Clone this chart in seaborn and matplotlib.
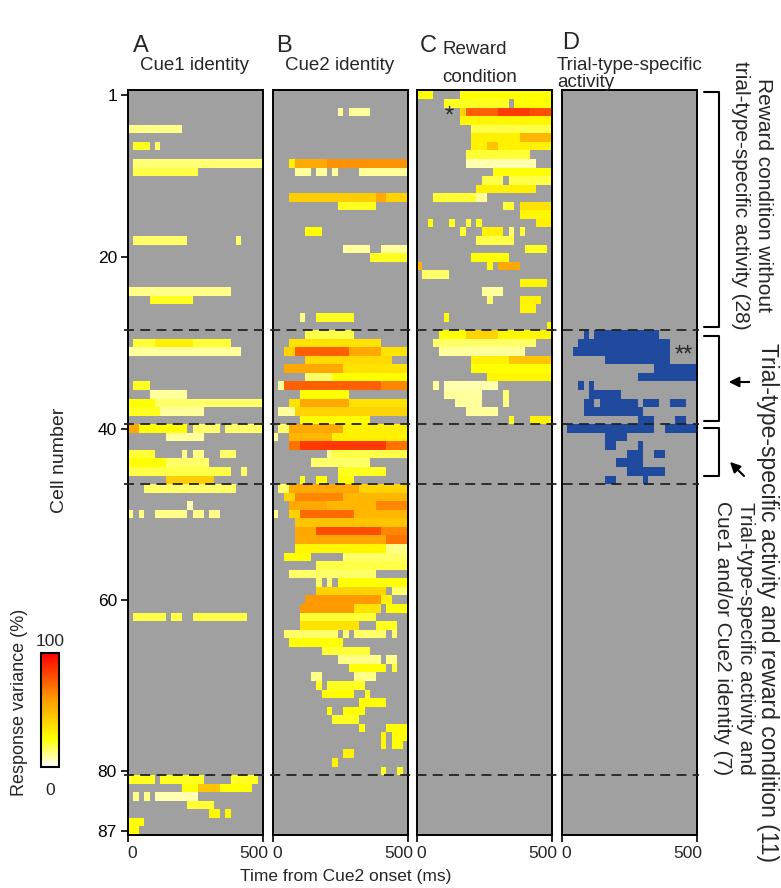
import numpy as np
import matplotlib
matplotlib.use('Agg')
import matplotlib.pyplot as plt
import seaborn as sns
from matplotlib.colors import LinearSegmentedColormap, ListedColormap
from matplotlib.lines import Line2D
from matplotlib.patches import FancyArrowPatch
from matplotlib.transforms import blended_transform_factory

sns.set_theme(style='white')
plt.rcParams['font.family'] = ['Liberation Sans', 'DejaVu Sans']

# ---------------- data ----------------
N_CELLS = 87
N_BINS = 25          # 20-ms bins, 0-500 ms
panel_letters = ['A', 'B', 'C', 'D']
x_tick_labels = ['0', '500']
y_tick_cells = [1, 20, 40, 60, 80, 87]
group_boundaries = [28.5, 39.5, 46.5, 80.5]

# (cell, first bin, last bin, response variance %)
cue1_segments = [
    (5, 0, 9, 12), (7, 1, 3, 22), (7, 5, 5, 15), (9, 1, 24, 14), (10, 1, 12, 18),
    (18, 1, 10, 15), (18, 20, 20, 15), (24, 0, 18, 12), (25, 4, 11, 22),
    (30, 1, 4, 20), (30, 5, 11, 30), (30, 12, 18, 20), (31, 0, 20, 10),
    (35, 1, 3, 22), (36, 4, 10, 10), (37, 0, 4, 25), (37, 5, 24, 15),
    (38, 0, 5, 22), (38, 6, 13, 10),
    (40, 0, 1, 55), (40, 2, 10, 25), (40, 12, 16, 15), (40, 18, 24, 15),
    (41, 7, 13, 10),
    (43, 0, 4, 20), (43, 10, 10, 12), (43, 12, 13, 12), (43, 17, 19, 15),
    (44, 0, 6, 25), (44, 7, 14, 15), (45, 0, 18, 18), (45, 21, 21, 15),
    (46, 7, 15, 42), (47, 3, 19, 15), (49, 11, 11, 8),
    (50, 0, 0, 12), (50, 2, 2, 12), (50, 5, 10, 12), (50, 12, 13, 12), (50, 15, 16, 12),
    (62, 1, 6, 18), (62, 8, 9, 18), (62, 12, 21, 18),
    (81, 0, 4, 22), (81, 6, 13, 22), (81, 19, 23, 22),
    (82, 10, 12, 25), (82, 13, 16, 45), (82, 17, 22, 25),
    (83, 1, 1, 12), (83, 3, 3, 12), (83, 5, 12, 8),
    (84, 11, 15, 20), (85, 15, 16, 28), (85, 18, 18, 28),
    (86, 0, 2, 25), (87, 0, 1, 25),
]

cue2_segments = [
    (3, 12, 12, 10), (3, 14, 17, 10),
    (9, 3, 3, 30), (9, 4, 9, 55), (9, 10, 24, 62),
    (10, 4, 6, 10), (10, 8, 9, 10), (10, 11, 11, 10), (10, 16, 24, 10),
    (13, 3, 18, 42), (13, 19, 20, 55), (13, 21, 24, 40),
    (14, 12, 18, 22), (17, 6, 8, 25),
    (19, 13, 14, 10), (19, 15, 16, 10), (19, 17, 17, 10), (19, 20, 24, 10),
    (20, 18, 24, 22), (27, 5, 5, 12), (27, 8, 14, 22),
    (29, 6, 14, 18), (30, 3, 19, 35),
    (31, 2, 3, 40), (31, 4, 13, 75), (31, 14, 19, 55), (31, 20, 24, 35),
    (32, 6, 21, 38), (33, 2, 12, 55), (33, 13, 24, 35),
    (34, 6, 10, 15), (34, 11, 24, 25),
    (35, 1, 1, 10), (35, 2, 19, 75), (35, 20, 24, 65),
    (36, 5, 13, 25), (37, 3, 4, 35), (37, 5, 13, 55), (37, 14, 24, 35),
    (38, 1, 3, 10), (38, 4, 24, 40), (39, 5, 17, 25),
    (40, 1, 2, 15), (40, 3, 12, 55), (40, 13, 24, 30),
    (41, 0, 0, 10), (41, 3, 10, 50), (41, 11, 24, 30),
    (42, 3, 4, 70), (42, 5, 20, 85), (42, 21, 24, 70),
    (43, 10, 10, 12), (43, 11, 24, 18), (44, 7, 17, 15), (45, 12, 20, 22),
    (46, 5, 5, 22), (46, 8, 9, 25), (46, 12, 14, 25),
    (47, 1, 2, 15), (47, 3, 15, 55), (47, 16, 24, 40),
    (48, 2, 3, 40), (48, 4, 12, 65), (48, 13, 24, 50),
    (49, 3, 9, 55), (49, 10, 18, 50), (49, 19, 24, 65),
    (50, 0, 0, 12), (50, 3, 4, 40), (50, 5, 14, 72), (50, 15, 24, 50),
    (51, 4, 24, 45),
    (52, 4, 7, 55), (52, 8, 19, 80), (52, 20, 24, 65),
    (53, 4, 20, 55), (53, 21, 24, 70),
    (54, 4, 20, 28), (54, 21, 24, 12),
    (55, 2, 6, 25), (55, 13, 24, 15),
    (56, 8, 24, 18), (57, 3, 18, 15),
    (58, 8, 8, 15), (58, 10, 10, 15), (58, 12, 24, 25),
    (59, 8, 20, 40), (59, 22, 24, 15),
    (60, 6, 19, 60), (60, 20, 21, 30),
    (61, 5, 14, 60), (61, 15, 19, 35), (61, 21, 24, 25),
    (62, 5, 18, 20), (63, 5, 15, 35), (63, 19, 22, 22),
    (64, 2, 11, 15), (64, 13, 13, 15), (64, 15, 20, 15), (64, 22, 22, 15),
    (65, 3, 12, 25), (66, 9, 17, 20), (67, 12, 19, 12), (67, 21, 22, 12),
    (68, 14, 20, 25), (68, 22, 22, 20), (69, 7, 8, 12), (69, 15, 18, 12),
    (70, 8, 8, 22), (70, 10, 16, 22), (71, 9, 14, 25), (71, 17, 17, 22),
    (72, 16, 20, 25), (73, 10, 10, 25), (73, 13, 16, 25), (74, 11, 15, 22),
    (75, 16, 16, 25), (75, 21, 24, 25), (76, 20, 20, 28), (76, 22, 24, 25),
    (77, 20, 20, 28), (77, 22, 23, 25), (78, 13, 14, 30), (79, 11, 11, 30),
    (80, 20, 20, 22), (80, 23, 23, 22),
]

reward_segments = [
    (1, 0, 2, 25), (1, 8, 24, 25), (2, 5, 16, 22), (2, 18, 24, 25),
    (3, 8, 8, 40), (3, 9, 14, 75), (3, 15, 20, 85), (3, 21, 24, 80),
    (4, 8, 24, 28), (5, 10, 24, 18), (6, 10, 18, 30), (6, 19, 24, 50),
    (7, 10, 12, 30), (7, 13, 14, 45), (7, 15, 24, 30), (8, 9, 20, 20),
    (9, 9, 20, 8), (9, 21, 21, 8), (10, 14, 24, 25),
    (11, 12, 15, 18), (11, 17, 23, 18), (11, 24, 24, 18),
    (12, 11, 21, 30), (13, 3, 10, 20), (13, 11, 12, 10),
    (14, 16, 17, 20), (14, 19, 24, 35), (15, 19, 24, 28),
    (16, 2, 2, 25), (16, 6, 6, 22), (16, 9, 9, 20), (16, 11, 11, 22), (16, 22, 24, 30),
    (17, 8, 8, 20), (17, 12, 15, 30), (17, 17, 17, 15), (17, 19, 19, 20),
    (18, 11, 17, 18), (19, 20, 23, 22), (20, 10, 16, 25),
    (21, 0, 0, 50), (21, 13, 13, 25), (21, 15, 18, 55), (22, 1, 5, 15),
    (23, 19, 23, 28), (24, 12, 15, 10), (25, 13, 13, 15), (25, 19, 22, 30),
    (26, 19, 21, 28), (27, 5, 5, 25), (28, 24, 24, 28),
    (29, 4, 8, 25), (29, 9, 14, 40), (29, 15, 24, 28),
    (30, 3, 21, 15), (31, 4, 19, 10), (32, 10, 16, 30), (32, 17, 24, 45),
    (33, 10, 24, 25), (34, 13, 24, 28), (35, 3, 3, 10), (35, 5, 14, 8),
    (36, 5, 11, 10), (36, 16, 16, 15), (37, 7, 11, 10), (37, 16, 16, 12),
    (38, 9, 14, 10), (39, 17, 17, 22), (39, 21, 24, 30),
]

trial_segments = [
    (29, 4, 4), (29, 6, 17), (30, 3, 19), (31, 2, 19), (32, 8, 19),
    (33, 17, 24), (34, 14, 24), (35, 3, 3), (35, 5, 5), (36, 5, 10),
    (37, 4, 5), (37, 7, 13), (37, 15, 17), (37, 20, 22), (38, 4, 14),
    (39, 14, 16), (39, 21, 22), (40, 1, 16), (40, 19, 24), (41, 8, 11),
    (42, 8, 9), (42, 14, 14), (43, 12, 14), (43, 17, 18), (44, 10, 10),
    (44, 11, 14), (45, 12, 18), (46, 8, 9), (46, 15, 15),
]


def build(segments, fixed=None):
    m = np.full((N_CELLS, N_BINS), np.nan)
    for seg in segments:
        cell, b0, b1 = seg[:3]
        m[cell - 1, b0:b1 + 1] = seg[3] if fixed is None else fixed
    return m


mats = [build(cue1_segments), build(cue2_segments), build(reward_segments),
        build(trial_segments, fixed=1.0)]

# ---------------- figure ----------------
W, H = 781, 888
fig = plt.figure(figsize=(W / 100, H / 100), dpi=100)


def P(x, y):
    return (x / W, 1 - y / H)


cmap = LinearSegmentedColormap.from_list(
    'rv', [(0, '#ffffff'), (0.25, '#ffff00'), (0.6, '#ff9900'), (1.0, '#ff0000')])
blue = ListedColormap(['#1f4a9e'])
gray = '#a0a0a0'

lefts = [128, 273, 417, 562]
pw = 135
top, bottom = 90.5, 835
axes = []
cax = fig.add_axes([41 / W, 1 - 767 / H, 18 / W, 114 / H])
for i, (lx, m) in enumerate(zip(lefts, mats)):
    ax = fig.add_axes([lx / W, 1 - bottom / H, pw / W, (bottom - top) / H])
    ax.set_facecolor(gray)
    if i < 3:
        sns.heatmap(m, ax=ax, cmap=cmap, vmin=0, vmax=100,
                    cbar=(i == 0), cbar_ax=cax if i == 0 else None,
                    xticklabels=False, yticklabels=False)
    else:
        sns.heatmap(m, ax=ax, cmap=blue, vmin=0, vmax=1, cbar=False,
                    xticklabels=False, yticklabels=False)
    for s in ax.spines.values():
        s.set_visible(True)
        s.set_color('black')
        s.set_linewidth(1.4)
    ax.set_xticks([0, N_BINS])
    ax.set_xticklabels(['', ''])
    ax.tick_params(axis='x', bottom=True, length=5, width=1.2, direction='out',
                   colors='black')
    # tick labels, slightly inset from the tick marks as in the original
    fig.text(*P(lx + 4, 853), x_tick_labels[0], fontsize=12.5, ha='center', va='center')
    fig.text(*P(lx + 126, 853), x_tick_labels[1], fontsize=12.5, ha='center', va='center')
    if i == 0:
        ax.set_yticks([c - 0.5 for c in y_tick_cells])
        ax.set_yticklabels([str(c) for c in y_tick_cells], fontsize=12.5, rotation=0)
        ax.tick_params(axis='y', left=True, length=5, width=1.2, direction='out',
                       pad=3, colors='black')
    else:
        ax.set_yticks([])
    ax.set_xlim(0, N_BINS)
    ax.set_ylim(N_CELLS, 0)
    axes.append(ax)

# colorbar
cb = axes[0].collections[0].colorbar
cb.set_ticks([])
cb.outline.set_visible(True)
cb.outline.set_linewidth(1.5)
cb.outline.set_edgecolor('black')
fig.text(*P(50, 641), '100', fontsize=12.5, ha='center', va='center')
fig.text(*P(50, 790), '0', fontsize=12.5, ha='center', va='center')
fig.text(*P(20, 702), 'Response variance (%)', fontsize=13, rotation=90,
         ha='center', va='center')

# dashed group lines across all panels
bt = blended_transform_factory(fig.transFigure, axes[0].transData)
for b in group_boundaries:
    fig.lines.append(Line2D([124 / W, 699 / W], [b - 0.5, b - 0.5], transform=bt,
                            color='#222222', lw=1.3, linestyle=(0, (5.5, 3.5))))

# labels
for lx, ly, letter in zip([141, 284, 428, 571], [46, 46, 46, 43], panel_letters):
    fig.text(*P(lx, ly), letter, fontsize=17, ha='center', va='center')
fig.text(*P(195, 66), 'Cue1 identity', fontsize=13.5, ha='center', va='center')
fig.text(*P(340, 66), 'Cue2 identity', fontsize=13.5, ha='center', va='center')
fig.text(*P(443, 50), 'Reward', fontsize=13.5, ha='left', va='center')
fig.text(*P(442, 77), 'condition', fontsize=13.5, ha='left', va='center')
fig.text(*P(557, 65), 'Trial-type-specific', fontsize=13.5, ha='left', va='center')
fig.text(*P(557, 82), 'activity', fontsize=13.5, ha='left', va='center')
fig.text(*P(60, 460), 'Cell number', fontsize=14, rotation=90, ha='center', va='center')
fig.text(*P(346, 876), 'Time from Cue2 onset (ms)', fontsize=12.5, ha='center', va='center')

fig.text(*P(449, 117), '*', fontsize=17, ha='center', va='center')
fig.text(*P(684, 356), '**', fontsize=17, ha='center', va='center')

# brackets and annotations on the right
def bracket(y0, y1, x=719, arm=15):
    xs = [x - arm, x, x, x - arm]
    ys = [y0, y0, y1, y1]
    fig.lines.append(Line2D([v / W for v in xs], [1 - v / H for v in ys],
                            transform=fig.transFigure, color='black', lw=1.5))

bracket(92, 327)
bracket(336, 421)
bracket(428, 476)

fig.text(*P(752, 195), 'Reward condition without\ntrial-type-specific activity (28)',
         fontsize=15, rotation=-90, ha='center', va='center', multialignment='center',
         linespacing=1.25)
fig.text(*P(768, 602), 'Trial-type-specific activity and reward condition (11)',
         fontsize=16.5, rotation=-90, ha='center', va='center')
fig.text(*P(734, 638), 'Trial-type-specific activity and\nCue1 and/or Cue2 identity (7)',
         fontsize=15, rotation=-90, ha='center', va='center', multialignment='center',
         linespacing=1.25)

for (x0, y0, x1, y1) in [(752, 382, 726, 382), (746, 478, 728, 460)]:
    fig.patches.append(FancyArrowPatch(P(x0, y0), P(x1, y1), transform=fig.transFigure,
                                       arrowstyle='-|>,head_length=6,head_width=3',
                                       color='black', lw=1.5))

fig.savefig('out.png', dpi=100)
